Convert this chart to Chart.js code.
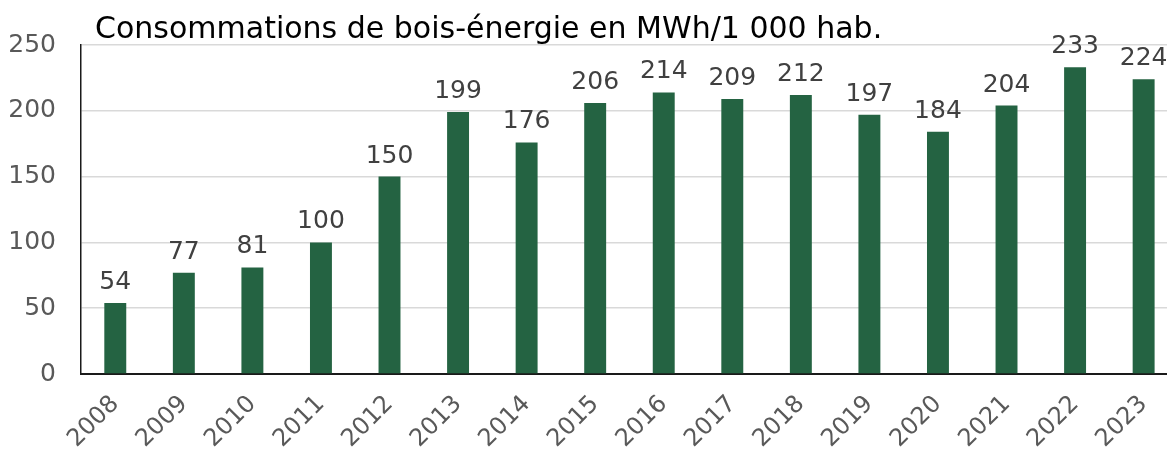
<!DOCTYPE html>
<html>
<head>
<meta charset="utf-8">
<script src="https://cdn.jsdelivr.net/npm/chart.js@4/dist/chart.umd.min.js"></script>
<style>
  body { margin: 0; overflow: hidden; background: #fff; }
  #wrap { position: relative; width: 1180px; height: 452px; }
</style>
</head>
<body>
<div id="wrap"><canvas id="boisChart"></canvas></div>
<script>
/* Consommations de bois-énergie en MWh/1 000 hab. */

const years = ['2008', '2009', '2010', '2011', '2012', '2013', '2014', '2015',
  '2016', '2017', '2018', '2019', '2020', '2021', '2022', '2023'];
const consommations = [54, 77, 81, 100, 150, 199, 176, 206, 214, 209, 212, 197, 184, 204, 233, 224];
const titre = 'Consommations de bois-énergie en MWh/1 000 hab.';

const fontFamily = '"DejaVu Sans", Verdana, sans-serif';

const topLabels = {
  id: 'topLabels',
  afterDatasetsDraw(chart) {
    const { ctx } = chart;
    const meta = chart.getDatasetMeta(0);
    ctx.save();
    ctx.font = '25px ' + fontFamily;
    ctx.fillStyle = '#404040';
    ctx.textAlign = 'center';
    ctx.textBaseline = 'bottom';
    meta.data.forEach((bar, index) => {
      ctx.fillText(chart.data.datasets[0].data[index], bar.x, bar.y - 8);
    });
    ctx.restore();
  }
};

const titleText = {
  id: 'titleText',
  afterDraw(chart) {
    const { ctx } = chart;
    ctx.save();
    ctx.font = '30px ' + fontFamily;
    ctx.fillStyle = '#000';
    ctx.textAlign = 'left';
    ctx.textBaseline = 'alphabetic';
    ctx.fillText(titre, 95, 38);
    ctx.restore();
  }
};

const ctx = document.getElementById('boisChart');

new Chart(ctx, {
  type: 'bar',
  data: {
    labels: years,
    datasets: [{
      data: consommations,
      backgroundColor: '#246342',
      borderWidth: 0,
      barPercentage: 0.32,
      categoryPercentage: 1
    }]
  },
  options: {
    responsive: true,
    maintainAspectRatio: false,
    animation: false,
    layout: { padding: { top: 45, left: 0, right: 0, bottom: 0 } },
    plugins: {
      legend: { display: false },
      tooltip: { enabled: false }
    },
    scales: {
      x: {
        grid: { display: false, drawTicks: false },
        border: { color: '#1a1a1a', width: 2 },
        ticks: {
          color: '#595959',
          font: { family: fontFamily, size: 24 },
          minRotation: 45,
          maxRotation: 45,
          padding: 16
        },
        afterFit(scale) { scale.height = 78; }
      },
      y: {
        min: 0,
        max: 250,
        ticks: {
          stepSize: 50,
          color: '#595959',
          font: { family: fontFamily, size: 25 },
          padding: 25
        },
        grid: { color: '#d9d9d9', lineWidth: 1.5, drawTicks: false },
        border: { color: '#1a1a1a', width: 1.5 },
        afterFit(scale) { scale.width = 81; }
      }
    }
  },
  plugins: [topLabels, titleText]
});
</script>
</body>
</html>
